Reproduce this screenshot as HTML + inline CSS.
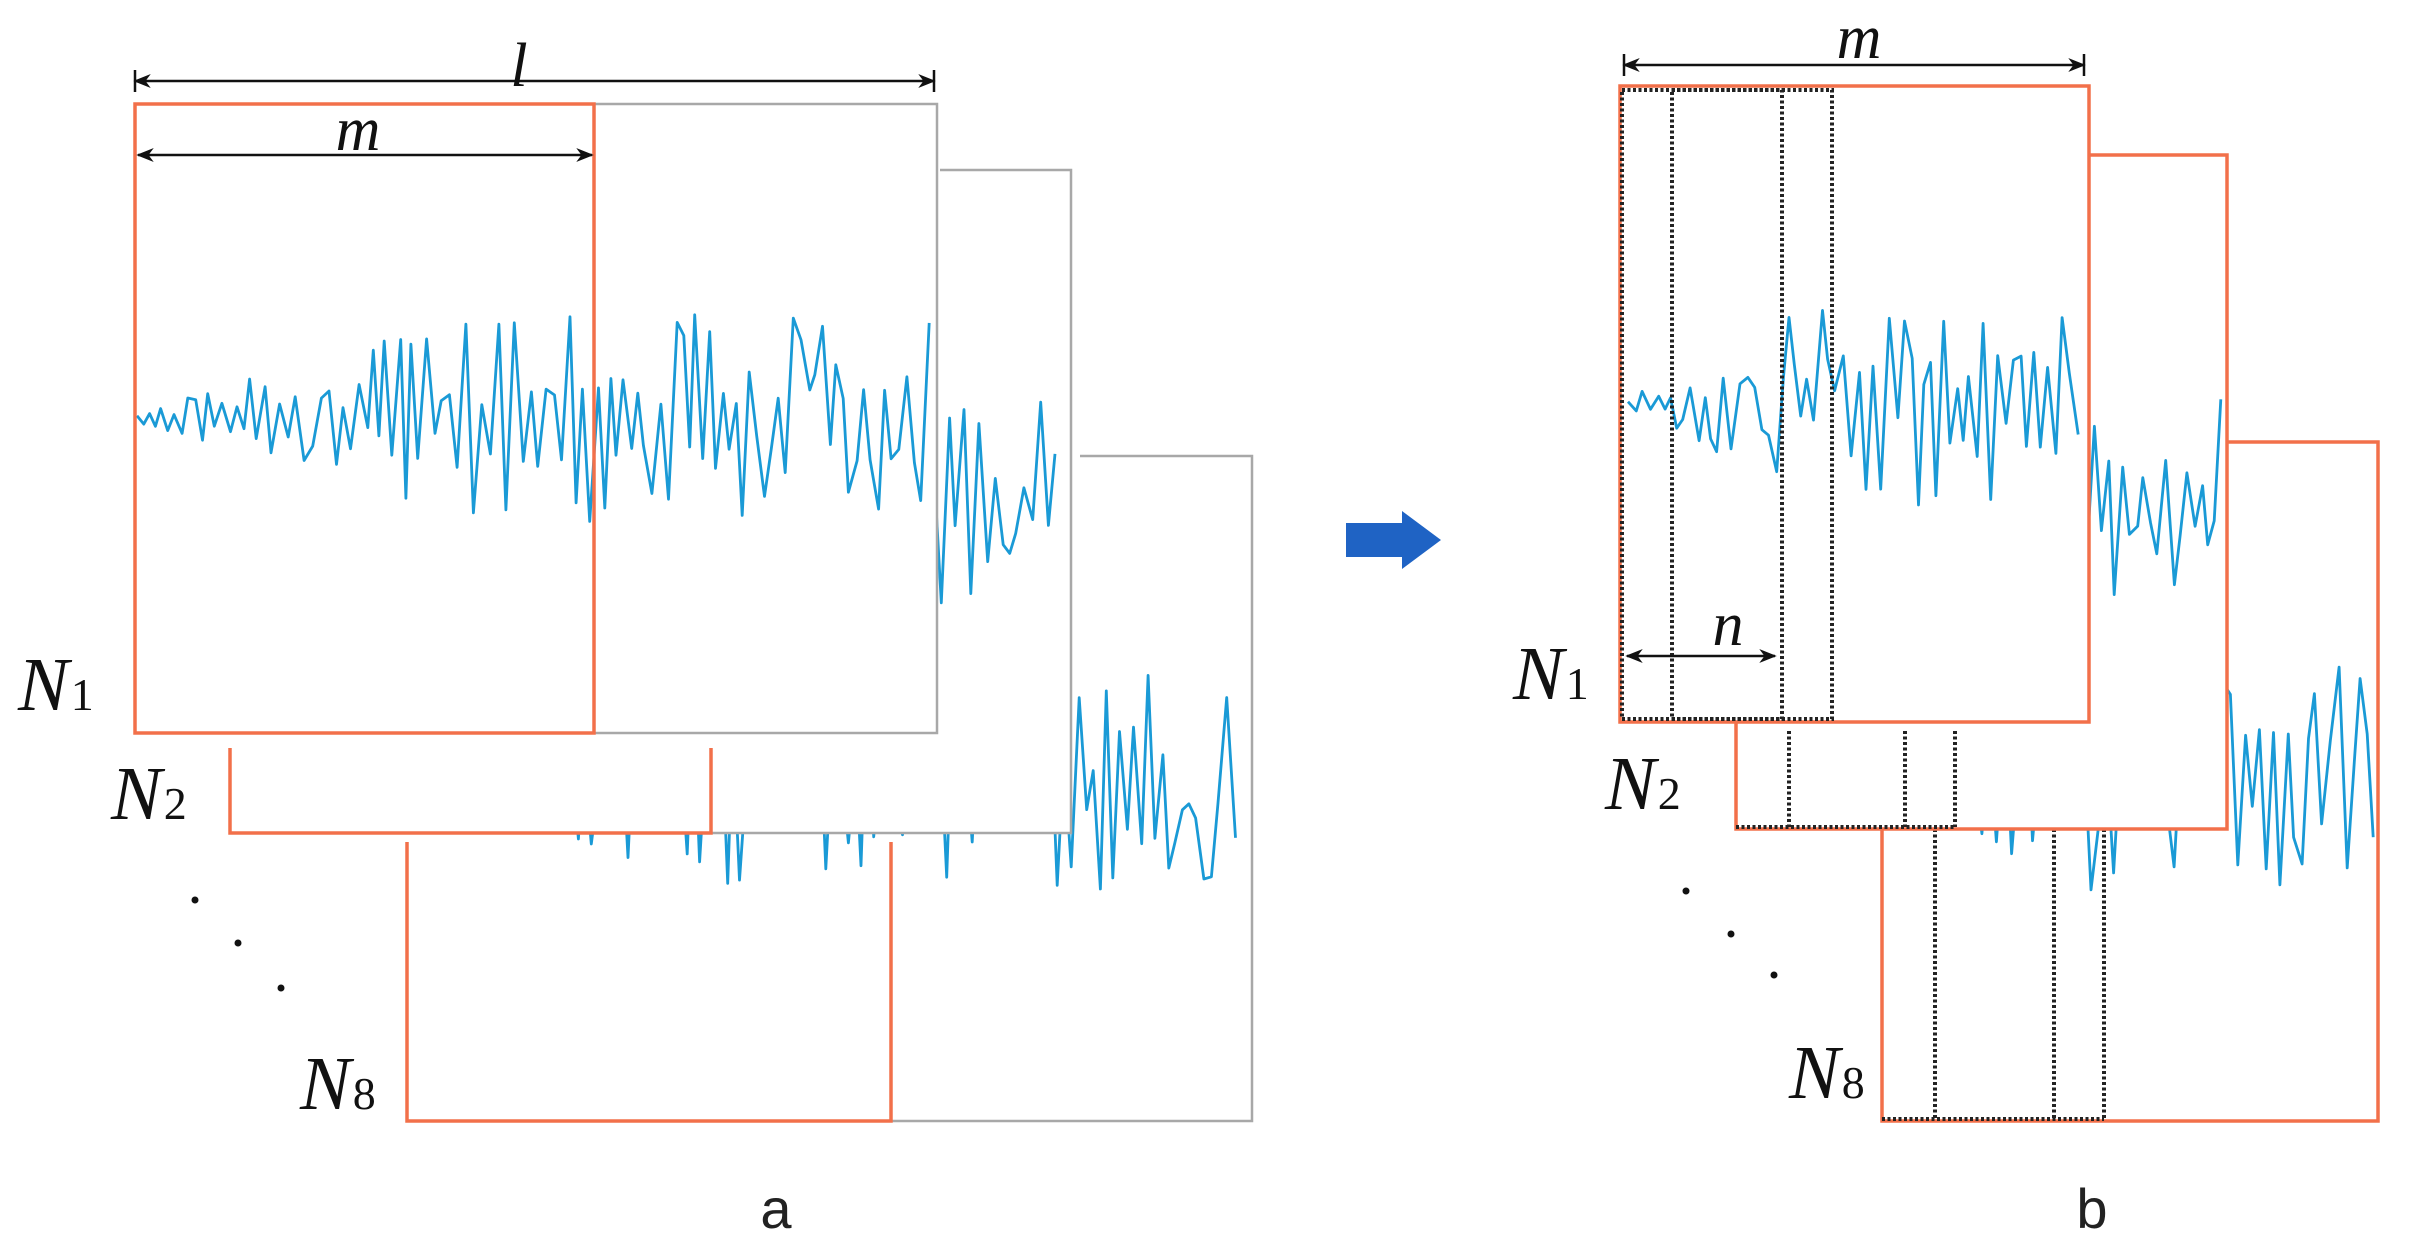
<!DOCTYPE html>
<html><head><meta charset="utf-8"><style>
html,body{margin:0;padding:0;background:#fff;}
svg{display:block}
.lbl{font-family:"Liberation Serif",serif;font-style:italic;fill:#111}
.sub{font-family:"Liberation Serif",serif;font-style:normal;fill:#111}
.cap{font-family:"Liberation Sans",sans-serif;fill:#222}
</style></head><body>
<svg id="s" width="2409" height="1254" viewBox="0 0 2409 1254" xmlns="http://www.w3.org/2000/svg">
<defs>
<marker id="ah" viewBox="0 0 10 10" refX="9" refY="5" markerWidth="7" markerHeight="7" orient="auto-start-reverse"><path d="M0,1 L10,5 L0,9 L3,5 z" fill="#111"/></marker>
</defs>
<g id="L"></g>
<g id="R"></g>
<line x1="135" y1="81" x2="934" y2="81" stroke="#111" stroke-width="2.5" marker-start="url(#ah)" marker-end="url(#ah)"/>
<line x1="135" y1="70" x2="135" y2="92" stroke="#111" stroke-width="2.5"/>
<line x1="934" y1="70" x2="934" y2="92" stroke="#111" stroke-width="2.5"/>
<text x="519" y="86" class="lbl" font-size="62" text-anchor="middle">l</text>
<line x1="138" y1="155" x2="592" y2="155" stroke="#111" stroke-width="2.5" marker-start="url(#ah)" marker-end="url(#ah)"/>
<text x="358" y="150" class="lbl" font-size="62" text-anchor="middle">m</text>
<text x="18" y="710" class="lbl" font-size="76">N<tspan class="sub" font-size="46" dx="2">1</tspan></text>
<text x="111" y="819" class="lbl" font-size="76">N<tspan class="sub" font-size="46" dx="2">2</tspan></text>
<text x="300" y="1109" class="lbl" font-size="76">N<tspan class="sub" font-size="46" dx="2">8</tspan></text>
<circle cx="195" cy="900" r="3.5" fill="#111"/><circle cx="238" cy="943" r="3.5" fill="#111"/><circle cx="281" cy="988" r="3.5" fill="#111"/>
<text x="776" y="1228" class="cap" font-size="56" text-anchor="middle">a</text>
<path d="M1346,523 L1402,523 L1402,511 L1441,540 L1402,569 L1402,557 L1346,557 z" fill="#1f63c4"/>
<line x1="1624" y1="65" x2="2084" y2="65" stroke="#111" stroke-width="2.5" marker-start="url(#ah)" marker-end="url(#ah)"/>
<line x1="1624" y1="54" x2="1624" y2="76" stroke="#111" stroke-width="2.5"/>
<line x1="2084" y1="54" x2="2084" y2="76" stroke="#111" stroke-width="2.5"/>
<text x="1859" y="58" class="lbl" font-size="62" text-anchor="middle">m</text>
<line x1="1627" y1="656" x2="1775" y2="656" stroke="#111" stroke-width="2.5" marker-start="url(#ah)" marker-end="url(#ah)"/>
<text x="1728" y="645" class="lbl" font-size="62" text-anchor="middle">n</text>
<text x="1513" y="699" class="lbl" font-size="76">N<tspan class="sub" font-size="46" dx="2">1</tspan></text>
<text x="1605" y="809" class="lbl" font-size="76">N<tspan class="sub" font-size="46" dx="2">2</tspan></text>
<text x="1789" y="1098" class="lbl" font-size="76">N<tspan class="sub" font-size="46" dx="2">8</tspan></text>
<circle cx="1686" cy="891" r="3.5" fill="#111"/><circle cx="1731" cy="934" r="3.5" fill="#111"/><circle cx="1774" cy="975" r="3.5" fill="#111"/>
<text x="2092" y="1228" class="cap" font-size="56" text-anchor="middle">b</text>
</svg>
<script>
(function(){
var NS="http://www.w3.org/2000/svg";
var seed=12345;function rnd(){seed=(seed*16807)%2147483647;return seed/2147483647;}
function el(p,t,a){var e=document.createElementNS(NS,t);for(var k in a)e.setAttribute(k,a[k]);p.appendChild(e);return e;}
function wave(p,x0,x1,y0,amp){var d="",n=0,s=1;for(var x=x0;x<=x1;x+=5+rnd()*4){var t=(x-x0)/(x1-x0);var env=Math.min(1,0.05+t*2.3);s=-s;if(rnd()<0.2)s=-s;var m=rnd()<0.35?(0.7+0.3*rnd()):(0.12+0.4*rnd());var y=y0+s*amp*env*m;d+=(n?"L":"M")+x.toFixed(1)+","+y.toFixed(1);n++;}
el(p,"path",{d:d,fill:"none",stroke:"#1a9ad6","stroke-width":2.8,"stroke-linejoin":"round"});}
var OR="#f2704a",GR="#a8a8a8";
var L=document.getElementById("L");
el(L,"rect",{x:407,y:456,width:845,height:665,fill:"#fff"});
wave(L,410,1241,785,115);
el(L,"polyline",{points:"1080,456 1252,456 1252,1121 891,1121",fill:"none",stroke:GR,"stroke-width":2.5});
el(L,"polyline",{points:"407,842 407,1121 891,1121 891,842",fill:"none",stroke:OR,"stroke-width":3.5});
el(L,"rect",{x:230,y:170,width:841,height:663,fill:"#fff"});
wave(L,232,1060,505,110);
el(L,"polyline",{points:"940,170 1071,170 1071,833 711,833",fill:"none",stroke:GR,"stroke-width":2.5});
el(L,"polyline",{points:"230,748 230,833 711,833 711,748",fill:"none",stroke:OR,"stroke-width":3.5});
el(L,"rect",{x:135,y:104,width:802,height:629,fill:"#fff",stroke:GR,"stroke-width":2.5});
wave(L,137,932,418,105);
el(L,"rect",{x:135,y:104,width:459,height:629,fill:"none",stroke:OR,"stroke-width":3.5});
var R=document.getElementById("R");
function dots(p,xs,y0,y1){xs.forEach(function(x){el(p,"line",{x1:x,y1:y0,x2:x,y2:y1,stroke:"#222","stroke-width":4,"stroke-dasharray":"3,2.5"});});}
el(R,"rect",{x:1882,y:442,width:496,height:679,fill:"#fff",stroke:OR,"stroke-width":3.5});
wave(R,1884,2378,780,115);
dots(R,[1935,2054,2104],829,1119);
el(R,"line",{x1:1882,y1:1119,x2:2104,y2:1119,stroke:"#222","stroke-width":4,"stroke-dasharray":"3,2.5"});
el(R,"rect",{x:1736,y:155,width:491,height:674,fill:"#fff",stroke:OR,"stroke-width":3.5});
wave(R,1738,2222,500,105);
dots(R,[1789,1905,1955],731,827);
el(R,"line",{x1:1736,y1:827,x2:1955,y2:827,stroke:"#222","stroke-width":4,"stroke-dasharray":"3,2.5"});
el(R,"rect",{x:1620,y:86,width:469,height:636,fill:"#fff",stroke:OR,"stroke-width":3.5});
wave(R,1628,2084,404,105);
el(R,"rect",{x:1622,y:90,width:160,height:629,fill:"none",stroke:"#222","stroke-width":4,"stroke-dasharray":"3,2.5"});
el(R,"rect",{x:1672,y:90,width:160,height:629,fill:"none",stroke:"#222","stroke-width":4,"stroke-dasharray":"3,2.5"});
})();
</script>
</body></html>
